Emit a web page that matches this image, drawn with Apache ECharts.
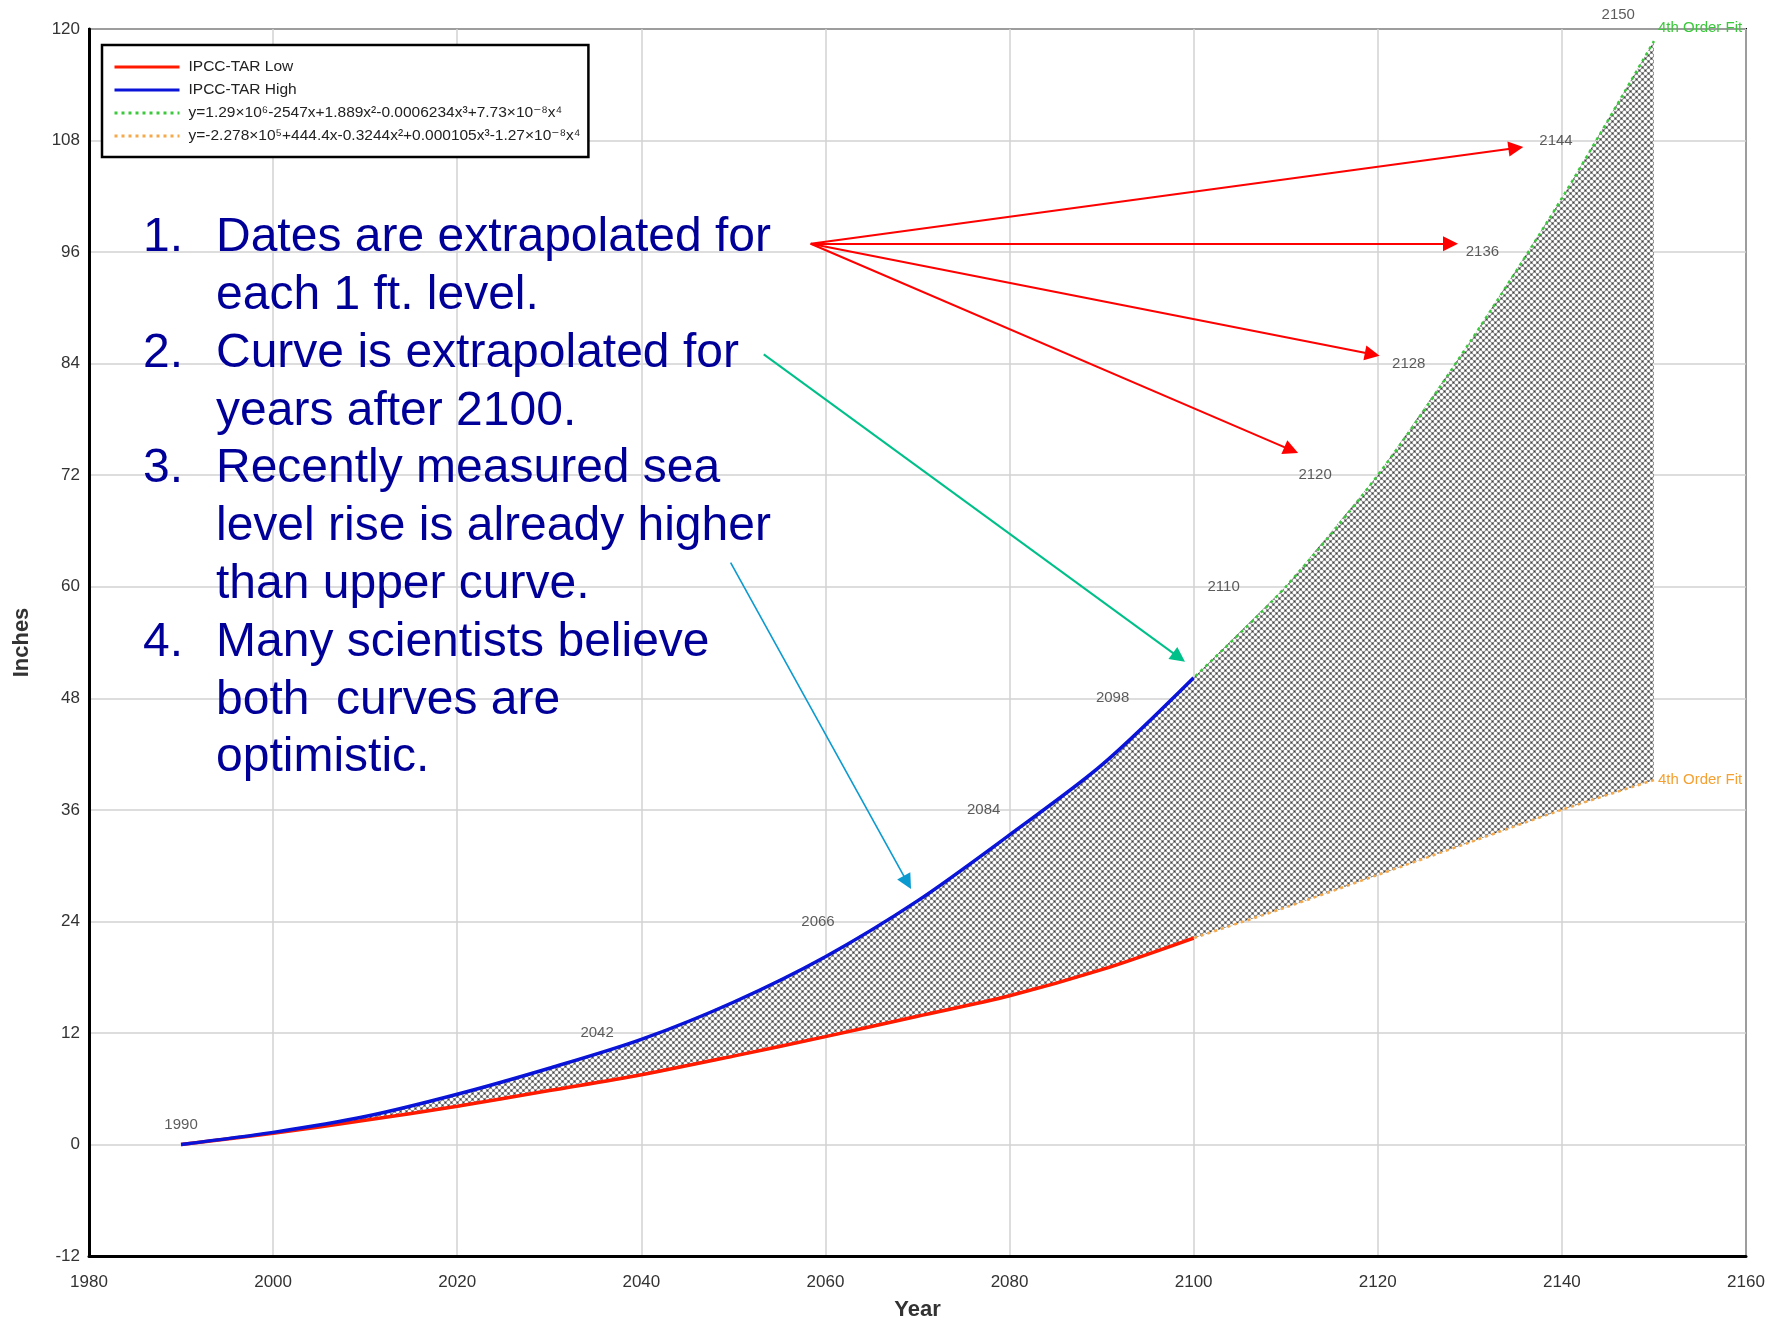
<!DOCTYPE html>
<html>
<head>
<meta charset="utf-8">
<script src="https://cdn.jsdelivr.net/npm/echarts@6/dist/echarts.min.js"></script>
<style>
html,body{margin:0;padding:0;background:#fff;}
#chart{width:1775px;height:1320px;}
</style>
</head>
<body>
<div id="chart"></div>
<script>
// ---- data ----
const years      = [1990,2000,2010,2020,2030,2040,2050,2060,2070,2080,2090,2100,2110,2120,2130,2140,2150];
const highInches = [0,1.3,3.0,5.4,8.2,11.3,15.3,20.2,26.2,33.3,40.8,50.2,60.0,72.0,86.3,101.8,118.7];
const lowInches  = [0,1.2,2.6,4.1,5.8,7.5,9.5,11.6,13.8,16.0,18.8,22.2,25.5,29.0,32.5,36.0,39.2];
const measuredEndYear = 2100;

const footYears  = [1990,2042,2066,2084,2098,2110,2120,2128,2136,2144,2150];
const footLevels = [0,12,24,36,48,60,72,84,96,108,120];

const xTicks = {min:1980, max:2160, step:20};
const yTicks = {min:-12, max:120, step:12};

const seriesNames = ['IPCC-TAR Low','IPCC-TAR High',
  'y=1.29×10⁶-2547x+1.889x²-0.0006234x³+7.73×10⁻⁸x⁴',
  'y=-2.278×10⁵+444.4x-0.3244x²+0.000105x³-1.27×10⁻⁸x⁴'];
const fitLabel = '4th Order Fit';

const arrowOrigin = [2058.4, 96.9];
const redArrowTips = [[2135.0,107.2],[2127.9,96.9],[2119.4,85.0],[2110.6,74.7]];
const greenArrow = [[2053.3,85.0],[2098.4,52.4]];
const blueArrow  = [[2049.7,62.6],[2068.9,28.2]];

const noteNumbers = '1.\n\n2.\n\n3.\n\n\n4.';
const noteText = 'Dates are extrapolated for\neach 1 ft. level.\nCurve is extrapolated for\nyears after 2100.\nRecently measured sea\nlevel rise is already higher\nthan upper curve.\nMany scientists believe\nboth  curves are\noptimistic.';

// ---- helpers ----
function pairs(xs, ys){ return xs.map((x,i)=>[x, ys[i]]); }
function upTo(xs, ys, last){ const out=[]; xs.forEach((x,i)=>{ if(x<=last) out.push([x,ys[i]]); }); return out; }

function makeHatch(){
  const n = 6;
  const c = document.createElement('canvas');
  c.width = n; c.height = n;
  const g = c.getContext('2d');
  g.fillStyle = '#8c8c8c'; g.fillRect(0,0,n,n);
  g.fillStyle = '#ffffff';
  [[1.5,1.5],[4.5,4.5]].forEach(p=>{ g.beginPath(); g.arc(p[0],p[1],1.7,0,Math.PI*2); g.fill(); });
  g.fillStyle = '#333333';
  [[4.5,1.5],[1.5,4.5]].forEach(p=>{ g.beginPath(); g.arc(p[0],p[1],0.55,0,Math.PI*2); g.fill(); });
  return c;
}
const hatch = makeHatch();

const FONT = '"Liberation Sans", Arial, "DejaVu Sans", sans-serif';
const chart = echarts.init(document.getElementById('chart'), null, {renderer:'canvas'});

const labelData = footYears.map((y,i)=>{
  const d = {value:[y, footLevels[i]]};
  if(i===0) d.label = {position:'top', distance:12};
  else if(i===footYears.length-1) d.label = {position:'left', distance:19, offset:[0,-14]};
  else if(i>=7) d.label = {distance:26};
  return d;
});

const arrowLines = redArrowTips.map(t=>[
  {coord: arrowOrigin, lineStyle:{color:'#ff0000', width:2, type:'solid'}},
  {coord: t}
]);
arrowLines.push([{coord: greenArrow[0], lineStyle:{color:'#00c08a', width:2, type:'solid'}},{coord: greenArrow[1]}]);
arrowLines.push([{coord: blueArrow[0], lineStyle:{color:'#0a9ad0', width:1.6, type:'solid'}},{coord: blueArrow[1]}]);

function renderBand(params, api){
  const top = years.map((x,i)=>api.coord([x, highInches[i]]));
  const bottom = years.map((x,i)=>api.coord([x, lowInches[i]])).reverse();
  const pts = top.concat(bottom);
  return {
    type:'group',
    children:[
      {type:'polygon', shape:{points:pts}, style:{fill:'#a0a0a0'}},
      {type:'polygon', shape:{points:pts}, style:{fill:{image:hatch, repeat:'repeat'}}}
    ]
  };
}

const option = {
  backgroundColor:'#fff',
  animation:false,
  grid:{left:89, right:29, top:29, bottom:64, show:true, borderColor:'#000', borderWidth:2,
        backgroundColor:'transparent', containLabel:false, outerBoundsMode:'none'},
  legend:{
    left:102, top:45, orient:'vertical',
    data: seriesNames,
    itemWidth:65, itemHeight:12, itemGap:7,
    padding:[14,8,13,11],
    borderColor:'#000', borderWidth:2.5, backgroundColor:'#fff',
    itemStyle:{opacity:0},
    lineStyle:{width:3},
    textStyle:{fontFamily:FONT, fontSize:15.5, color:'#222', padding:[0,0,0,4]},
    selectedMode:false
  },
  xAxis:{
    type:'value', min:xTicks.min, max:xTicks.max, interval:xTicks.step,
    name:'Year', nameLocation:'middle', nameGap:43,
    nameTextStyle:{fontFamily:FONT, fontSize:22, fontWeight:'bold', color:'#333'},
    axisLine:{show:true, onZero:false, lineStyle:{color:'#000', width:3}},
    axisTick:{show:false},
    axisLabel:{fontFamily:FONT, fontSize:17, color:'#333', margin:18, formatter:v=>String(v)},
    splitLine:{show:true, lineStyle:{color:'#d2d2d2', width:1.5}}
  },
  yAxis:{
    type:'value', min:yTicks.min, max:yTicks.max, interval:yTicks.step,
    name:'Inches', nameLocation:'middle', nameGap:56,
    nameTextStyle:{fontFamily:FONT, fontSize:22, fontWeight:'bold', color:'#333'},
    axisLine:{show:true, onZero:false, lineStyle:{color:'#000', width:3}},
    axisTick:{show:false},
    axisLabel:{fontFamily:FONT, fontSize:17, color:'#333', margin:9, formatter:v=>String(v)},
    splitLine:{show:true, lineStyle:{color:'#d2d2d2', width:1.5}}
  },
  graphic:[
    {type:'text', left:143, top:209, z:100, style:{text:noteNumbers, fontFamily:FONT, fontSize:48, fill:'#000099', lineHeight:57.8}},
    {type:'text', left:216, top:209, z:100, style:{text:noteText, fontFamily:FONT, fontSize:48, fill:'#000099', lineHeight:57.8}}
  ],
  series:[
    {
      name:'band', type:'custom', silent:true, z:1,
      data:[[years[0], lowInches[0]]],
      encode:{x:0, y:1},
      renderItem: renderBand
    },
    {
      name:seriesNames[2], type:'line', smooth:0.3, symbol:'none', z:3,
      data: pairs(years, highInches),
      lineStyle:{color:'#3cc83c', width:2.5, type:[3,4]},
      itemStyle:{color:'#3cc83c'},
      endLabel:{show:true, formatter:fitLabel, color:'#3cc83c', fontFamily:FONT, fontSize:15, distance:4, offset:[0,-13]}
    },
    {
      name:seriesNames[3], type:'line', smooth:0.3, symbol:'none', z:3,
      data: pairs(years, lowInches),
      lineStyle:{color:'#f5a94a', width:2.5, type:[3,4]},
      itemStyle:{color:'#f5c27a'},
      endLabel:{show:true, formatter:fitLabel, color:'#f5a030', fontFamily:FONT, fontSize:15, distance:4}
    },
    {
      name:seriesNames[0], type:'line', smooth:0.3, symbol:'none', z:4,
      data: upTo(years, lowInches, measuredEndYear),
      lineStyle:{color:'#ff1a00', width:3.5}, itemStyle:{color:'#ff1a00'}
    },
    {
      name:seriesNames[1], type:'line', smooth:0.3, symbol:'none', z:4,
      data: upTo(years, highInches, measuredEndYear),
      lineStyle:{color:'#0a14d8', width:3.5}, itemStyle:{color:'#0a14d8'}
    },
    {
      name:'footLabels', type:'scatter', symbolSize:0, clip:false, silent:true, z:6,
      data: labelData,
      label:{show:true, position:'left', distance:46, formatter:p=>String(p.value[0]),
             fontFamily:FONT, fontSize:15, color:'#333'},
      markLine:{
        silent:true, symbol:['none','triangle'], symbolSize:15,
        label:{show:false}, emphasis:{disabled:true},
        lineStyle:{type:'solid'},
        data: arrowLines
      }
    }
  ]
};
chart.setOption(option);
</script>
</body>
</html>
